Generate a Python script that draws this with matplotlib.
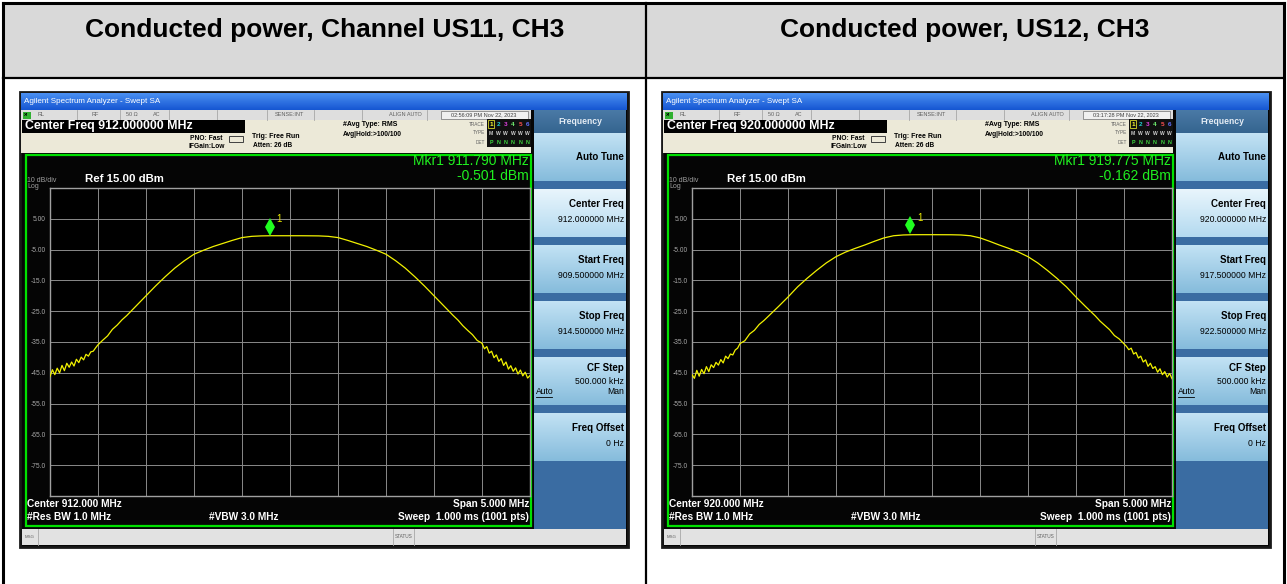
import numpy as np
import matplotlib
matplotlib.use('Agg')
from matplotlib import pyplot as plt
from matplotlib.patches import Rectangle
from matplotlib.colors import to_rgb

plt.rcParams['font.family'] = ['Liberation Sans', 'DejaVu Sans']

W, H = 1287, 584

# ---- data ----
titles = ['Conducted power, Channel US11, CH3', 'Conducted power, US12, CH3']
center_mhz = [912.0, 920.0]
start_mhz = [909.5, 917.5]
stop_mhz = [914.5, 922.5]
mkr_mhz = [911.790, 919.775]
mkr_dbm = [-0.501, -0.162]
timestamps = ['02:56:09 PM Nov 22, 2023', '03:17:28 PM Nov 22, 2023']
span_mhz = 5.0
ref_dbm = 15.0
bottom_dbm = -85.0
ytick_vals = [15, 5, -5, -15, -25, -35, -45, -55, -65, -75, -85]
ytick_labels = ['', '5.00', '-5.00', '-15.0', '-25.0', '-35.0', '-45.0', '-55.0', '-65.0', '-75.0', '']

# trace sample offsets from center frequency (MHz)
offsets = [-2.500, -2.475, -2.450, -2.425, -2.400, -2.375, -2.350, -2.325, -2.300, -2.275,
           -2.250, -2.225, -2.200, -2.175, -2.150, -2.125, -2.100, -2.075, -2.050, -2.025,
           -2.000, -1.950, -1.900, -1.850, -1.800, -1.750, -1.700, -1.600, -1.500, -1.400,
           -1.300, -1.200, -1.100, -1.000, -0.900, -0.800, -0.700, -0.600, -0.500, -0.400,
           -0.300, -0.200, -0.100, 0.000, 0.100, 0.200,
           0.300, 0.400, 0.500, 0.600, 0.700, 0.800, 0.900, 1.000, 1.100, 1.200,
           1.300, 1.400, 1.500, 1.600, 1.700, 1.750, 1.800, 1.850, 1.900, 1.950,
           2.000, 2.025, 2.050, 2.075, 2.100, 2.125, 2.150, 2.175, 2.200, 2.225,
           2.250, 2.275, 2.300, 2.325, 2.350, 2.375, 2.400, 2.425, 2.450, 2.475, 2.500]

levels_us11 = [-46.2, -44.0, -45.6, -43.5, -45.0, -42.6, -44.3, -41.9, -43.2, -41.5,
               -42.8, -40.6, -41.7, -39.9, -40.8, -39.0, -39.6, -38.2, -38.0, -36.9,
               -35.9, -34.4, -33.0, -30.9, -29.5, -27.8, -26.4, -23.2, -20.0, -16.8,
               -13.8, -11.0, -8.6, -6.5, -5.2, -4.0, -3.0, -2.0, -1.1, -0.7,
               -0.55, -0.50, -0.50, -0.50, -0.50, -0.52,
               -0.55, -0.7, -1.1, -2.0, -3.0, -4.0, -5.2, -6.5, -8.6, -11.0,
               -13.8, -16.8, -20.0, -23.2, -26.4, -27.9, -29.7, -31.2, -32.6, -34.5,
               -35.4, -37.2, -36.5, -38.6, -38.0, -40.1, -39.2, -41.3, -40.4, -42.6,
               -41.5, -43.8, -42.7, -44.5, -43.4, -45.4, -44.1, -46.0, -44.8, -46.7, -45.9]

levels_us12 = [-45.6, -46.8, -44.2, -46.1, -43.9, -45.3, -43.0, -44.6, -42.4, -43.3,
               -41.6, -42.5, -40.7, -41.8, -39.6, -40.4, -38.9, -39.2, -37.6, -37.0,
               -35.5, -34.6, -32.4, -31.2, -29.3, -28.0, -26.5, -23.5, -20.4, -17.1,
               -14.3, -11.7, -9.3, -7.3, -5.8, -4.6, -3.5, -2.3, -1.2, -0.5,
               -0.25, -0.17, -0.16, -0.16, -0.17, -0.18,
               -0.25, -0.5, -1.2, -2.3, -3.5, -4.6, -5.8, -7.3, -9.3, -11.7,
               -14.3, -17.1, -20.4, -23.5, -26.5, -28.2, -29.6, -31.0, -32.9, -34.0,
               -35.6, -36.4, -37.5, -37.0, -38.9, -38.4, -40.2, -39.6, -41.5, -40.8,
               -42.9, -41.9, -43.6, -43.0, -44.8, -43.7, -45.6, -44.6, -46.4, -45.2, -46.9]
traces = [levels_us11, levels_us12]

fig = plt.figure(figsize=(W / 100, H / 100), dpi=100)
bg = fig.add_axes([0, 0, 1, 1])
bg.axis('off')


def box(x0, y0, x1, y1, fc, ec='none', lw=0, z=1):
    bg.add_patch(Rectangle((x0, y0), x1 - x0, y1 - y0, facecolor=fc,
                           edgecolor=ec, linewidth=lw, zorder=z))


def grad(x0, y0, x1, y1, c_top, c_bot, z=2):
    # vertical colour ramp for the Windows style bars and buttons
    t = np.linspace(0, 1, 32)[:, None, None]
    img = (1 - t) * np.array(to_rgb(c_top)) + t * np.array(to_rgb(c_bot))
    bg.imshow(img, extent=(x0, x1, y1, y0), aspect='auto', interpolation='bilinear', zorder=z)


def txt(x, y, s, size, color='black', ha='left', weight='normal', z=5):
    bg.text(x, y, s, fontsize=size, color=color, ha=ha, va='center',
            fontweight=weight, zorder=z)


# ---- table ----
box(4, 4, 1283, 78, '#d9d9d9')
bg.plot([3, 1284], [3, 3], color='black', lw=2.2, zorder=3)
bg.plot([3, 1284], [78, 78], color='black', lw=1.6, zorder=3)
bg.plot([3, 3], [3, H], color='black', lw=2.2, zorder=3)
bg.plot([1283.5, 1283.5], [3, H], color='black', lw=2.2, zorder=3)
bg.plot([646, 646], [3, H], color='black', lw=1.6, zorder=3)
txt(325, 30.5, titles[0], 19, weight='bold', ha='center')
txt(965, 30.5, titles[1], 19, weight='bold', ha='center')


def draw_screen(i, X):
    fc = center_mhz[i]
    # outer frame / background
    box(X, 92, X + 608, 547, '#050505', ec='#181818', lw=2.0, z=1)
    # title bar
    grad(X + 1, 93, X + 607, 110, '#4a90f2', '#1656d2')
    txt(X + 4, 101.5, 'Agilent Spectrum Analyzer - Swept SA', 5.8, color='white')
    # status row
    box(X + 1, 110, X + 511, 120, '#dedede', z=2)
    for cx in [57, 100, 149, 197, 247, 294, 342, 407]:
        bg.plot([X + cx, X + cx], [110, 120], color='#a8a8a8', lw=0.6, zorder=3)
    box(X + 3, 111.5, X + 11, 118.5, '#30b030', z=3)
    txt(X + 4, 115, 'XI', 3.2, color='black', weight='bold')
    txt(X + 17, 115, 'RL', 4.0, color='#606060')
    txt(X + 75, 115, 'RF', 4.0, color='#606060', ha='center')
    txt(X + 112, 115, '50 Ω', 4.0, color='#606060', ha='center')
    txt(X + 137, 115, 'AC', 4.0, color='#606060', ha='center')
    txt(X + 269, 115, 'SENSE:INT', 4.0, color='#606060', ha='center')
    txt(X + 385, 115, 'ALIGN AUTO', 4.0, color='#606060', ha='center')
    box(X + 421, 111, X + 508, 119, '#f0f0f0', ec='#707070', lw=0.5, z=3)
    txt(X + 464, 115, timestamps[i], 4.0, color='#404040', ha='center')
    # beige settings area
    box(X + 1, 120, X + 511, 153, '#ece9d8', z=2)
    box(X + 2, 120, X + 225, 133, 'black', z=3)
    txt(X + 5, 126.5, 'Center Freq %.6f MHz' % fc, 8.9, color='white', weight='bold')
    txt(X + 202, 138, 'PNO: Fast', 4.8, ha='right', weight='bold')
    txt(X + 205, 147, 'IFGain:Low', 4.8, ha='right', weight='bold')
    bg.add_patch(Rectangle((X + 209, 136), 14, 6, facecolor='none', edgecolor='#404040',
                           linewidth=0.7, zorder=4))
    txt(X + 232, 136, 'Trig: Free Run', 5.0, weight='bold')
    txt(X + 233, 145.5, 'Atten: 26 dB', 4.8, weight='bold')
    txt(X + 323, 124.5, '#Avg Type: RMS', 5.0, weight='bold')
    txt(X + 323, 134, 'Avg|Hold:>100/100', 4.8, weight='bold')
    txt(X + 465, 124, 'TRACE', 3.4, color='#606060', ha='right')
    txt(X + 465, 133, 'TYPE', 3.4, color='#606060', ha='right')
    txt(X + 465, 142, 'DET', 3.4, color='#606060', ha='right')
    box(X + 467, 119, X + 511, 147, '#101010', z=3)
    trace_cols = ['#ffff30', '#20d0d0', '#e040e0', '#70f070', '#ff5050', '#6070ff']
    for k in range(6):
        cx = X + 471 + k * 7.3
        if k == 0:
            box(cx - 3, 120, cx + 3, 128, 'none', ec='#ffff30', lw=0.5, z=4)
        txt(cx, 124, str(k + 1), 4.6, color=trace_cols[k], ha='center', weight='bold')
        txt(cx, 133.5, 'M' if k == 0 else 'W', 3.6, color='#d0d0d0', ha='center', weight='bold')
        txt(cx, 142.5, 'P' if k == 0 else 'N', 3.8, color='#40e040', ha='center', weight='bold')
    # graticule frame
    box(X + 6, 155, X + 511, 526, 'none', ec='#00e000', lw=1.6, z=3)
    txt(X + 509, 161, 'Mkr1 %.3f MHz' % mkr_mhz[i], 10, color='#20f020', ha='right')
    txt(X + 509, 176, '%.3f dBm' % mkr_dbm[i], 10, color='#20f020', ha='right')
    txt(X + 7, 180, '10 dB/div', 5, color='#a0a0a0')
    txt(X + 7, 187, 'Log', 5, color='#a0a0a0')
    txt(X + 65, 179.5, 'Ref %.2f dBm' % ref_dbm, 8.2, color='white', weight='bold')
    txt(X + 7, 504, 'Center %.3f MHz' % fc, 7.3, color='white', weight='bold')
    txt(X + 509, 504, 'Span %.3f MHz' % span_mhz, 7.3, color='white', ha='right', weight='bold')
    txt(X + 7, 517, '#Res BW 1.0 MHz', 7.3, color='white', weight='bold')
    txt(X + 189, 517, '#VBW 3.0 MHz', 7.3, color='white', weight='bold')
    txt(X + 509, 517, 'Sweep  1.000 ms (1001 pts)', 7.3, color='white', ha='right', weight='bold')
    # msg bar
    box(X + 2, 529, X + 606, 545, '#e2e2e2', z=2)
    for cx in [18, 373, 394]:
        bg.plot([X + cx, X + cx], [529, 545], color='#a8a8a8', lw=0.6, zorder=3)
    txt(X + 5, 537, 'MSG', 3.2, color='#606060')
    txt(X + 375, 537, 'STATUS', 3.4, color='#606060')
    # softkeys
    kx0, kx1 = X + 514, X + 606
    box(kx0, 110, kx1, 529, '#3a6ca2', z=2)
    grad(kx0, 110, kx1, 133, '#4a7aa6', '#35648f')
    txt((kx0 + kx1) / 2, 121.5, 'Frequency', 6.2, color='#e4ecf4', ha='center', weight='bold')
    keys = [(133, 181, 'Auto Tune', ''), (189, 237, 'Center Freq', '%.6f MHz' % fc),
            (245, 293, 'Start Freq', '%.6f MHz' % start_mhz[i]),
            (301, 349, 'Stop Freq', '%.6f MHz' % stop_mhz[i]),
            (357, 405, 'CF Step', '500.000 kHz'), (413, 461, 'Freq Offset', '0 Hz')]
    for k, (t0, t1, name, val) in enumerate(keys):
        if k == 1:
            grad(kx0, t0, kx1, t1, '#e8f5fc', '#b4daf0', z=3)
        else:
            grad(kx0, t0, kx1, t1, '#c2e2f4', '#86bcdc', z=3)
        if val == '':
            txt(kx1 - 2, (t0 + t1) / 2, name, 7, weight='bold', ha='right')
        elif name == 'CF Step':
            txt(kx1 - 2, t0 + 11, name, 7, weight='bold', ha='right')
            txt(kx1 - 2, t0 + 24, val, 6.2, ha='right')
            txt(kx1 - 2, t0 + 35, 'Man', 6.2, ha='right')
            txt(kx0 + 2, t0 + 35, 'Auto', 6.2)
            bg.plot([kx0 + 2, kx0 + 18], [t0 + 40, t0 + 40], color='black', lw=0.6, zorder=5)
        else:
            txt(kx1 - 2, t0 + 15, name, 7, weight='bold', ha='right')
            txt(kx1 - 2, t0 + 31, val, 6.2, ha='right')

    # spectrum graticule
    ax = fig.add_axes([(X + 30) / W, 1 - 496 / H, 480 / W, 308 / H])
    ax.set_facecolor('black')
    ax.set_xlim(fc - span_mhz / 2, fc + span_mhz / 2)
    ax.set_ylim(bottom_dbm, ref_dbm)
    ax.set_xticks([fc - span_mhz / 2 + k * 0.5 for k in range(11)])
    ax.set_xticklabels([])
    ax.set_yticks(ytick_vals)
    ax.set_yticklabels(ytick_labels)
    ax.tick_params(length=0, pad=3, labelsize=4.8, labelcolor='#a8a8a8')
    ax.grid(True, color='#8a8a8a', lw=0.7)
    for s in ax.spines.values():
        s.set_color('#a0a0a0')
        s.set_linewidth(1.0)
    freqs = [fc + o for o in offsets]
    ax.plot(freqs, traces[i], color='#f2f200', lw=0.9, zorder=4)
    ax.plot([mkr_mhz[i]], [mkr_dbm[i] + 3], marker='d', color='#20ff20',
            markersize=9, markeredgewidth=0, zorder=5, clip_on=False)
    ax.text(mkr_mhz[i] + 0.07, mkr_dbm[i] + 5.5, '1', color='#e8e800', fontsize=7,
            va='center', ha='left', zorder=5)


draw_screen(0, 20)
draw_screen(1, 662)

bg.set_xlim(0, W)
bg.set_ylim(H, 0)

fig.savefig('out.png', dpi=100)
